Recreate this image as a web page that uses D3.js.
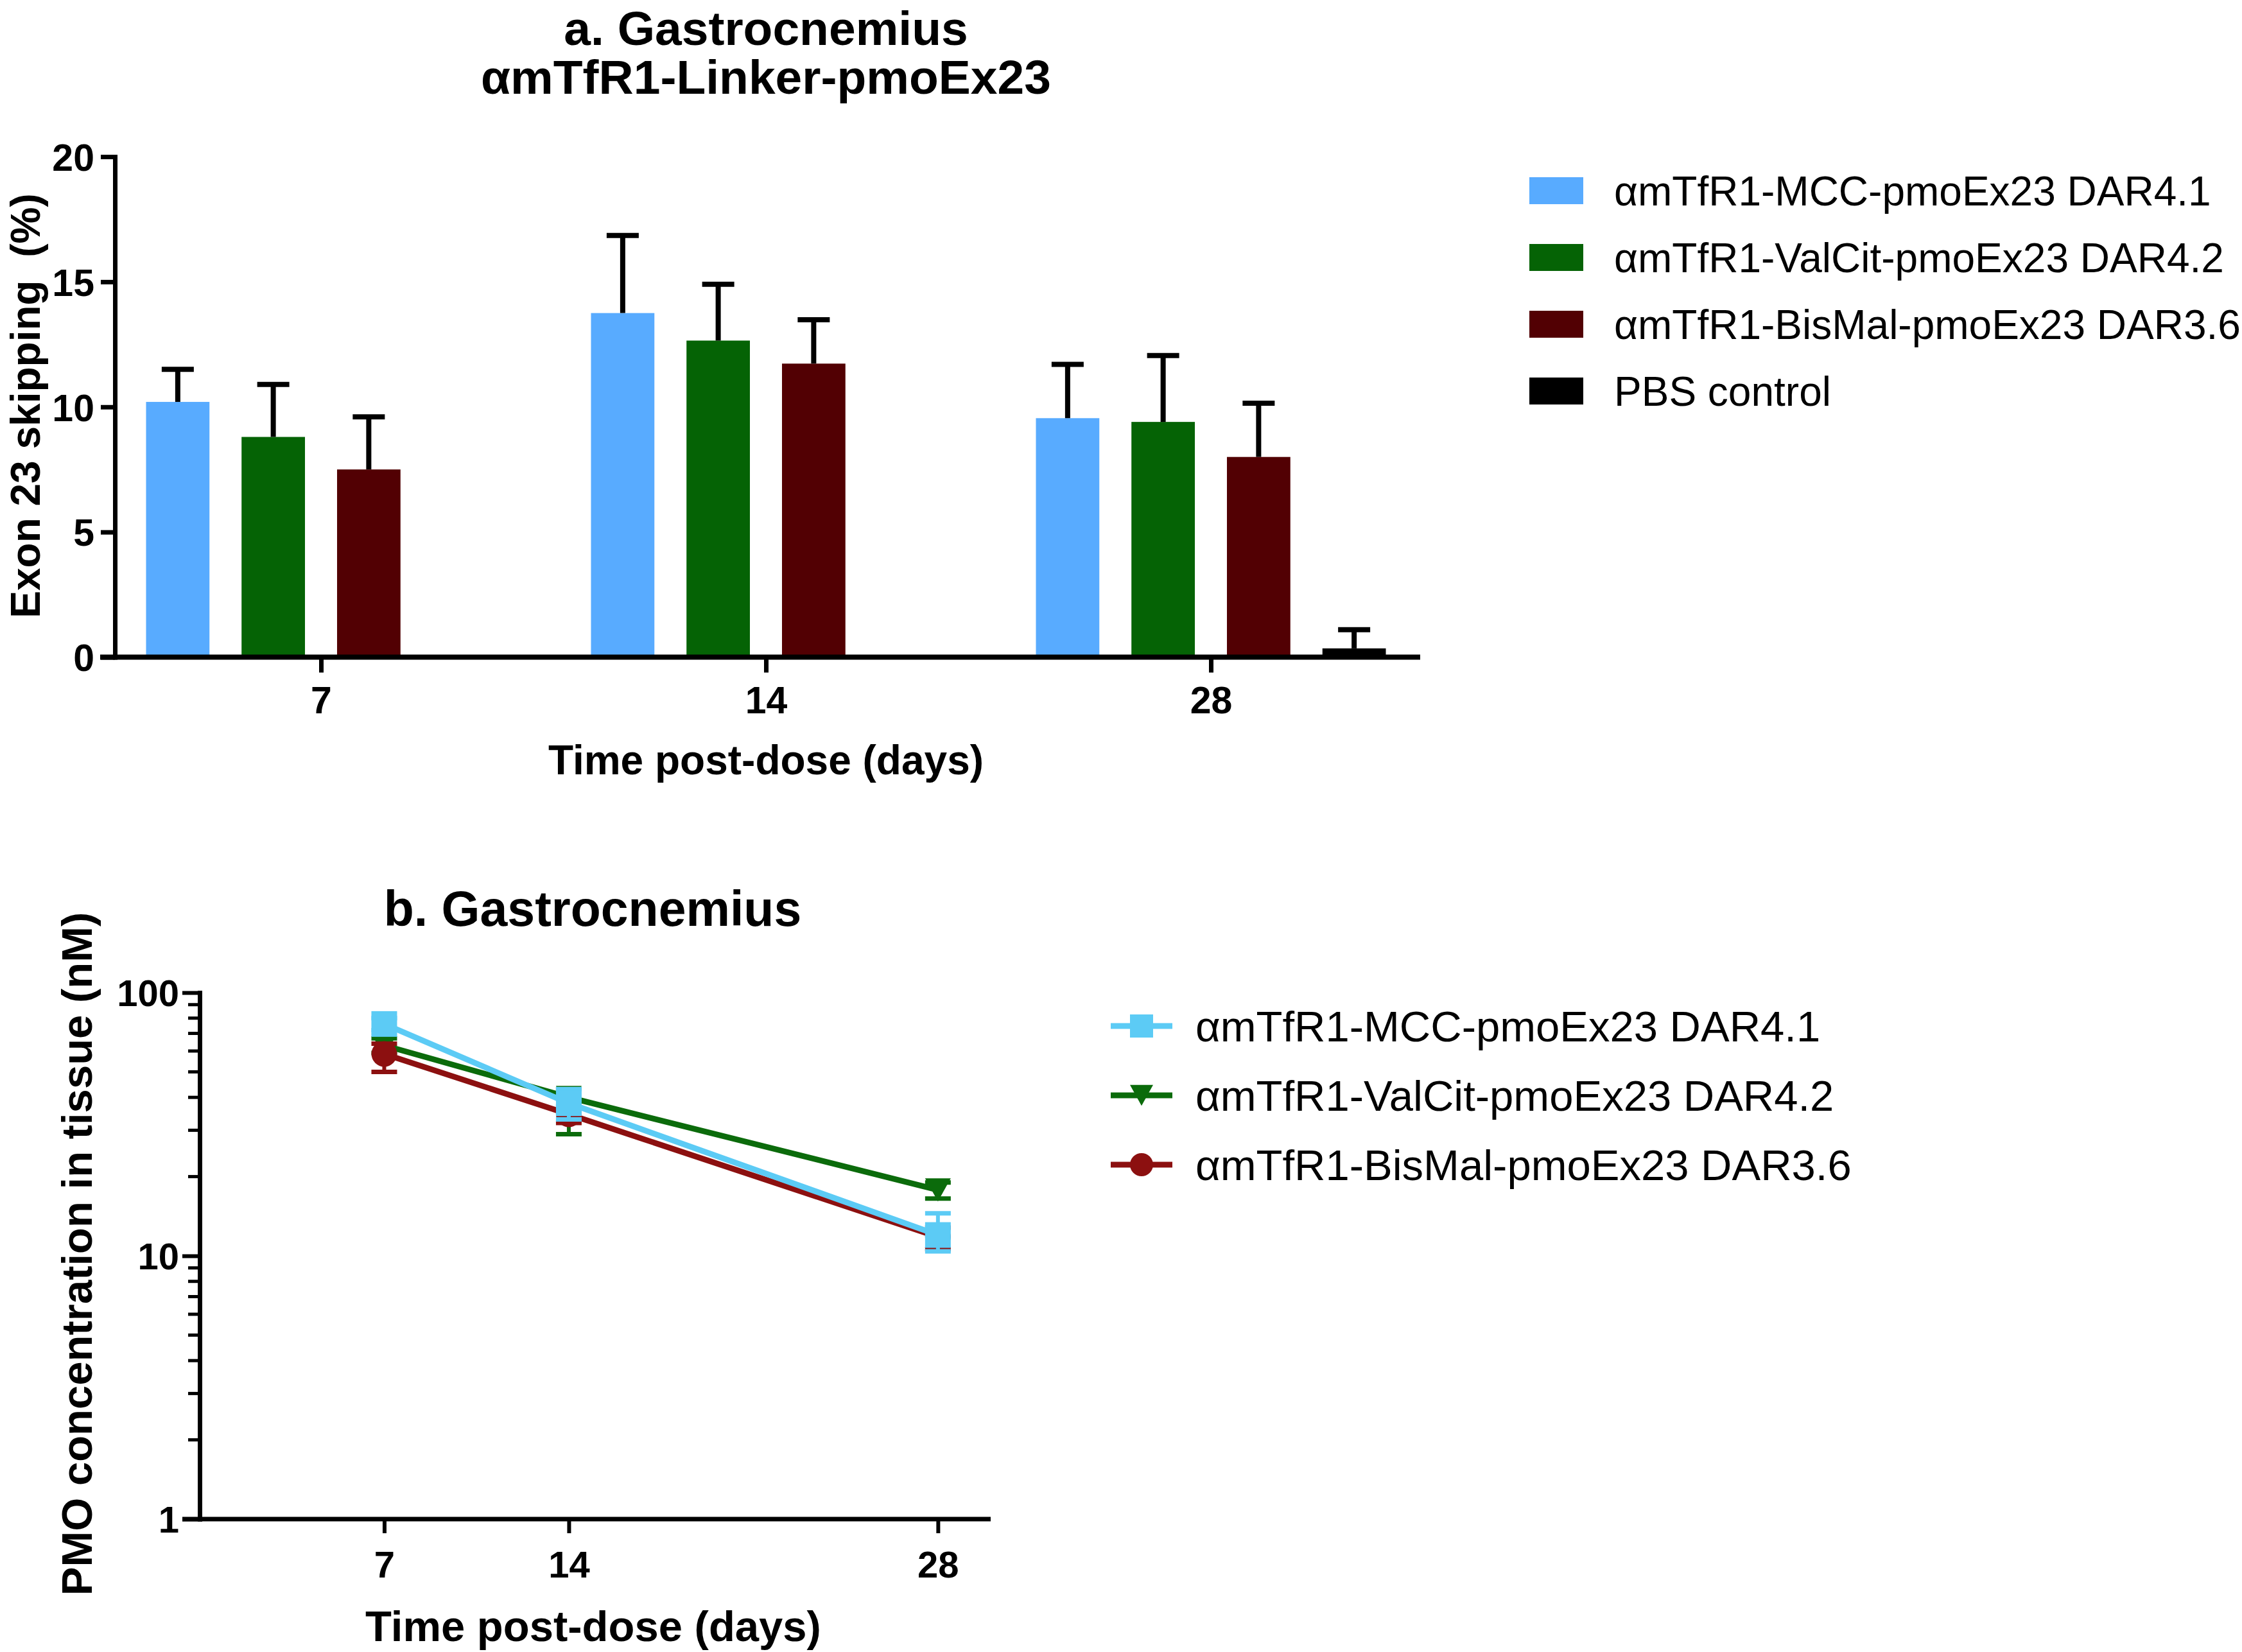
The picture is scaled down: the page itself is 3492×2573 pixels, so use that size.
<!DOCTYPE html>
<html><head><meta charset="utf-8">
<script src="https://cdn.jsdelivr.net/npm/d3@7"></script>
<style>
body{margin:0;background:#fff}
svg{display:block}
text{font-family:"Liberation Sans",Arial,Helvetica,sans-serif}
</style>
</head><body>
<svg id="chart" width="3492" height="2573"></svg>
<script>
// ---------- data: panel a (bar chart) ----------
const days = ["7", "14", "28"];
const seriesNames = ["αmTfR1-MCC-pmoEx23 DAR4.1", "αmTfR1-ValCit-pmoEx23 DAR4.2", "αmTfR1-BisMal-pmoEx23 DAR3.6", "PBS control"];
const mccSkip = [10.2, 13.75, 9.55];
const mccSkipErr = [1.3, 3.1, 2.15];
const valcitSkip = [8.8, 12.65, 9.4];
const valcitSkipErr = [2.1, 2.25, 2.65];
const bismalSkip = [7.5, 11.73, 8.0];
const bismalSkipErr = [2.1, 1.75, 2.15];
const pbsSkip = [null, null, 0.35];
const pbsSkipErr = [null, null, 0.75];
const skipTicks = [0, 5, 10, 15, 20];

// ---------- data: panel b (log line chart) ----------
const pmoDays = [7, 14, 28];
const pmoSeriesNames = ["αmTfR1-MCC-pmoEx23 DAR4.1", "αmTfR1-ValCit-pmoEx23 DAR4.2", "αmTfR1-BisMal-pmoEx23 DAR3.6"];
const mccPmo = [76, 38, 12];
const mccPmoLow = [72, 33, 10.4];
const mccPmoHigh = [80, 43, 14.5];
const valcitPmo = [63, 40, 17.8];
const valcitPmoLow = [59, 29, 16.5];
const valcitPmoHigh = [67, 43, 19];
const bismalPmo = [58.5, 34.5, 11.8];
const bismalPmoLow = [50, 32, 10.6];
const bismalPmoHigh = [64, 37, 12.8];
const pmoTicks = [1, 10, 100];

// ---------- styles ----------
const barColors = ["#58abff", "#056305", "#520003", "#000000"];
const lineColors = ["#5ccbf5", "#0b6b0b", "#8c1010"];
const FONT = '"Liberation Sans",Arial,Helvetica,sans-serif';

const svg = d3.select("#chart");
svg.append("rect").attr("width", 3492).attr("height", 2573).attr("fill", "#fff");

// =============== PANEL A ===============
const ya = d3.scaleLinear().domain([0, 20]).range([1023.5, 244]);
const xa0 = d3.scalePoint().domain(days).range([500, 1886]);
const xa1 = d3.scaleBand().domain(d3.range(4)).range([-297.5, 297.5]).paddingInner(0.336).paddingOuter(0.168);

const barSeries = [
  {v: mccSkip, e: mccSkipErr},
  {v: valcitSkip, e: valcitSkipErr},
  {v: bismalSkip, e: bismalSkipErr},
  {v: pbsSkip, e: pbsSkipErr}
];
const barData = [];
barSeries.forEach((s, si) => {
  days.forEach((d, di) => {
    if (s.v[di] != null) barData.push({day: d, s: si, v: s.v[di], e: s.e[di]});
  });
});

const gBars = svg.append("g");
gBars.selectAll("rect").data(barData).join("rect")
  .attr("x", d => xa0(d.day) + xa1(d.s))
  .attr("y", d => ya(d.v))
  .attr("width", xa1.bandwidth())
  .attr("height", d => ya(0) - ya(d.v))
  .attr("fill", d => barColors[d.s]);

const gErr = svg.append("g").attr("stroke", "#000").attr("stroke-width", 8);
barData.forEach(d => {
  const cx = xa0(d.day) + xa1(d.s) + xa1.bandwidth() / 2;
  gErr.append("line").attr("x1", cx).attr("x2", cx).attr("y1", ya(d.v)).attr("y2", ya(d.v + d.e));
  gErr.append("line").attr("x1", cx - 25).attr("x2", cx + 25).attr("y1", ya(d.v + d.e)).attr("y2", ya(d.v + d.e));
});

// x axis line (a)
svg.append("line").attr("x1", 156).attr("x2", 2212).attr("y1", ya(0)).attr("y2", ya(0))
  .attr("stroke", "#000").attr("stroke-width", 8);

const gxa = svg.append("g").attr("transform", `translate(0,${ya(0)})`)
  .call(d3.axisBottom(xa0).tickSize(24).tickSizeOuter(0));
gxa.select(".domain").remove();
gxa.selectAll(".tick line").attr("stroke", "#000").attr("stroke-width", 7);
gxa.selectAll(".tick text").attr("y", 87).attr("dy", 0)
  .attr("font-size", 59).attr("font-weight", "bold").attr("font-family", FONT).attr("fill", "#000");

const gya = svg.append("g").attr("transform", "translate(179,0)")
  .call(d3.axisLeft(ya).tickValues(skipTicks).tickSize(22).tickSizeOuter(0).tickPadding(10));
gya.select(".domain").attr("stroke", "#000").attr("stroke-width", 7).attr("stroke-linecap", "square");
gya.selectAll(".tick line").attr("stroke", "#000").attr("stroke-width", 7);
gya.selectAll(".tick text").attr("font-size", 59).attr("font-weight", "bold").attr("font-family", FONT)
  .attr("fill", "#000").attr("dy", "0.36em");

// titles (a)
svg.append("text").attr("x", 1193).attr("y", 70).attr("text-anchor", "middle")
  .attr("font-size", 75).attr("font-weight", "bold").text("a. Gastrocnemius");
svg.append("text").attr("x", 1193).attr("y", 146).attr("text-anchor", "middle")
  .attr("font-size", 75).attr("font-weight", "bold").text("αmTfR1-Linker-pmoEx23");
svg.append("text").attr("x", 1193).attr("y", 1206).attr("text-anchor", "middle")
  .attr("font-size", 64).attr("font-weight", "bold").text("Time post-dose (days)");
svg.append("text").attr("transform", "translate(62,632) rotate(-90)").attr("text-anchor", "middle")
  .attr("font-size", 64).attr("font-weight", "bold").style("white-space", "pre").text("Exon 23 skipping  (%)");

// legend (a)
const legA = svg.append("g");
seriesNames.forEach((n, i) => {
  const cy = 297 + 104 * i;
  legA.append("rect").attr("x", 2382).attr("y", cy - 21).attr("width", 84).attr("height", 42).attr("fill", barColors[i]);
  legA.append("text").attr("x", 2514).attr("y", cy).attr("dy", "0.36em").attr("font-size", 64).text(n);
});

// =============== PANEL B ===============
const xb = d3.scaleLinear().domain([0, 30]).range([311, 1543]);
const yb = d3.scaleLog().domain([1, 100]).range([2366, 1546]);

// x axis line (b)
svg.append("line").attr("x1", 284).attr("x2", 1543).attr("y1", yb(1)).attr("y2", yb(1))
  .attr("stroke", "#000").attr("stroke-width", 7);
const gxb = svg.append("g").attr("transform", `translate(0,${yb(1)})`)
  .call(d3.axisBottom(xb).tickValues(pmoDays).tickSize(22).tickSizeOuter(0));
gxb.select(".domain").remove();
gxb.selectAll(".tick line").attr("stroke", "#000").attr("stroke-width", 6);
gxb.selectAll(".tick text").attr("y", 91).attr("dy", 0)
  .attr("font-size", 58).attr("font-weight", "bold").attr("font-family", FONT).attr("fill", "#000");

const gyb = svg.append("g").attr("transform", "translate(311,0)")
  .call(d3.axisLeft(yb).tickValues(pmoTicks).tickFormat(d3.format("d")).tickSize(27).tickSizeOuter(0).tickPadding(5));
gyb.select(".domain").attr("stroke", "#000").attr("stroke-width", 7).attr("stroke-linecap", "square");
gyb.selectAll(".tick line").attr("stroke", "#000").attr("stroke-width", 6);
gyb.selectAll(".tick text").attr("font-size", 58).attr("font-weight", "bold").attr("font-family", FONT)
  .attr("fill", "#000").attr("dy", "0.36em");
// minor ticks
const minorTicks = yb.ticks().filter(t => pmoTicks.indexOf(t) < 0);
gyb.selectAll(".minor").data(minorTicks).join("line").attr("class", "minor")
  .attr("x1", -18).attr("x2", 0).attr("y1", d => yb(d)).attr("y2", d => yb(d))
  .attr("stroke", "#000").attr("stroke-width", 5);

// series (b)
const pmoSeries = [
  {v: mccPmo, lo: mccPmoLow, hi: mccPmoHigh, c: lineColors[0], shape: "square"},
  {v: valcitPmo, lo: valcitPmoLow, hi: valcitPmoHigh, c: lineColors[1], shape: "tri"},
  {v: bismalPmo, lo: bismalPmoLow, hi: bismalPmoHigh, c: lineColors[2], shape: "circle"}
];
function marker(g, shape, x, y, size, color) {
  const h = size / 2;
  if (shape === "square") {
    g.append("rect").attr("x", x - h).attr("y", y - h).attr("width", size).attr("height", size).attr("fill", color);
  } else if (shape === "circle") {
    g.append("circle").attr("cx", x).attr("cy", y).attr("r", h).attr("fill", color);
  } else {
    g.append("path").attr("d", `M${x - h},${y - h * 0.9}L${x + h},${y - h * 0.9}L${x},${y + h * 0.9}Z`).attr("fill", color);
  }
}
const lineGen = d3.line().x(d => xb(d.day)).y(d => yb(d.v));
[1, 2, 0].forEach(si => {
  const s = pmoSeries[si];
  const pts = pmoDays.map((d, i) => ({day: d, v: s.v[i], lo: s.lo[i], hi: s.hi[i]}));
  const g = svg.append("g");
  pts.forEach(p => {
    const x = xb(p.day);
    const y1 = yb(p.hi), y0 = yb(p.lo);
    g.append("line").attr("x1", x).attr("x2", x).attr("y1", y1).attr("y2", y0).attr("stroke", s.c).attr("stroke-width", 6);
    g.append("line").attr("x1", x - 20).attr("x2", x + 20).attr("y1", y1).attr("y2", y1).attr("stroke", s.c).attr("stroke-width", 7);
    g.append("line").attr("x1", x - 20).attr("x2", x + 20).attr("y1", y0).attr("y2", y0).attr("stroke", s.c).attr("stroke-width", 7);
  });
  g.append("path").datum(pts).attr("d", lineGen).attr("fill", "none").attr("stroke", s.c).attr("stroke-width", 9);
  pts.forEach(p => marker(g, s.shape, xb(p.day), yb(p.v), 40, s.c));
});

// titles (b)
svg.append("text").attr("x", 923).attr("y", 1442).attr("text-anchor", "middle")
  .attr("font-size", 77).attr("font-weight", "bold").text("b. Gastrocnemius");
svg.append("text").attr("x", 924).attr("y", 2556).attr("text-anchor", "middle")
  .attr("font-size", 67).attr("font-weight", "bold").text("Time post-dose (days)");
svg.append("text").attr("transform", "translate(143,1953) rotate(-90)").attr("text-anchor", "middle")
  .attr("font-size", 67).attr("font-weight", "bold").text("PMO concentration in tissue (nM)");

// legend (b)
const legB = svg.append("g");
pmoSeriesNames.forEach((n, i) => {
  const cy = 1598 + 108 * i;
  const s = pmoSeries[i];
  legB.append("line").attr("x1", 1730).attr("x2", 1826).attr("y1", cy).attr("y2", cy).attr("stroke", s.c).attr("stroke-width", 9);
  marker(legB, s.shape, 1778, cy, 36, s.c);
  legB.append("text").attr("x", 1862).attr("y", cy).attr("dy", "0.36em").attr("font-size", 67).text(n);
});
</script>
</body></html>
